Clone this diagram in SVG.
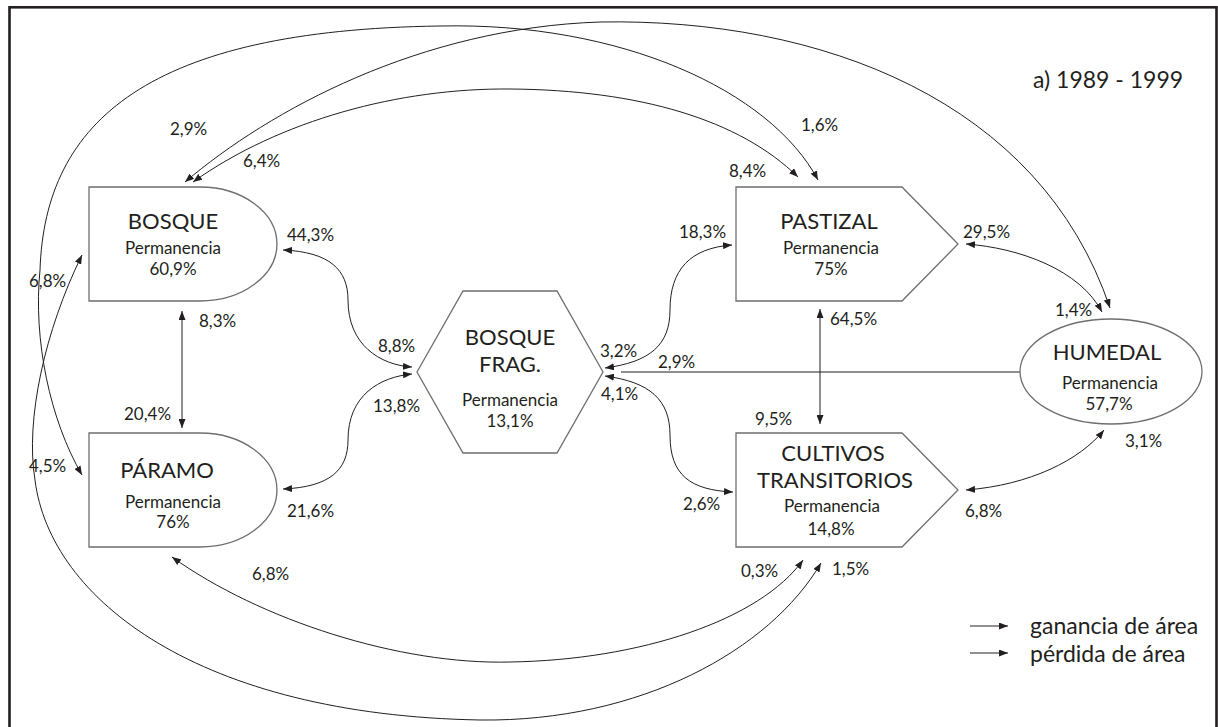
<svg xmlns="http://www.w3.org/2000/svg" width="1218" height="727" viewBox="0 0 1218 727">
<defs>
<marker id="ah" viewBox="0 0 10 10" refX="10" refY="5" markerWidth="9" markerHeight="7" markerUnits="userSpaceOnUse" orient="auto-start-reverse" preserveAspectRatio="none">
<path d="M0,0 L10,5 L0,10 z" fill="#231f20"/>
</marker>
</defs>
<style>
.node{fill:#fff;stroke:#6d6e71;stroke-width:1.3}
.c{fill:none;stroke:#231f20;stroke-width:1}
.a2{marker-start:url(#ah);marker-end:url(#ah)}
.a1{marker-end:url(#ah)}
text{font-family:Lato,"Liberation Sans",sans-serif;fill:#231f20}
.t{font-size:22px;text-anchor:middle}
.p{font-size:17px;text-anchor:middle}
.l{font-size:17px}
.g{font-size:23px}
</style>
<rect x="0" y="0" width="1218" height="727" fill="#fff"/>
<rect x="9.5" y="7.3" width="1207" height="740" fill="none" stroke="#231f20" stroke-width="2.6"/>

<g id="connectors">
<path class="c a2" d="M182,311 V428"/>
<path class="c a2" d="M283,250 C330,252 348,270 348,300 C348,345 380,365 412,367"/>
<path class="c a2" d="M283,489 C330,487 348,470 348,440 C348,395 380,377 412,374"/>
<path class="c a2" d="M605,368 C650,362 670,345 670,310 C670,270 690,248 732,245"/>
<path class="c a2" d="M605,376 C650,382 670,400 670,435 C670,475 690,490 733,492"/>
<path class="c" d="M1020,372 H621"/>
<path class="c a2" d="M820,309 V424"/>
<path class="c a2" d="M966,244 C1020,248 1080,270 1102,312"/>
<path class="c a2" d="M966,490 C1030,485 1080,460 1104,430"/>
<path class="c a2" d="M193,182 C280,120 400,88 510,89 C640,90 740,120 798,177"/>
<path class="c a2" d="M185,182 C270,110 420,28 600,22 C820,18 1040,100 1110,308"/>
<path class="c a2" d="M82,475 C50,420 33,340 40,270 C45,120 150,30 440,26 C620,22 770,90 818,180"/>
<path class="c a2" d="M172,557 C260,620 400,665 510,662 C640,660 760,620 803,560"/>
<path class="c a2" d="M82,255 C45,330 25,420 35,480 C50,600 200,715 480,720 C640,722 770,650 821,563"/>
<path class="c a1" d="M970,626 H1008"/>
<path class="c a1" d="M970,653 H1008"/>
</g>

<g id="bosque">
<path class="node" d="M89,187 H200 A77,57 0 0 1 200,301 H89 Z"/>
<text class="t" x="173" y="229">BOSQUE</text>
<text class="p" x="173" y="254">Permanencia</text>
<text class="p" x="173" y="275">60,9%</text>
</g>
<g id="paramo">
<path class="node" d="M89,433 H200 A77,57 0 0 1 200,547 H89 Z"/>
<text class="t" x="167" y="478">PÁRAMO</text>
<text class="p" x="173" y="508">Permanencia</text>
<text class="p" x="173" y="528">76%</text>
</g>
<g id="bosque-frag">
<path class="node" d="M417,372 L463,291 H557 L603,372 L557,453 H463 Z"/>
<text class="t" x="510" y="345">BOSQUE</text>
<text class="t" x="510" y="372">FRAG.</text>
<text class="p" x="510" y="406">Permanencia</text>
<text class="p" x="510" y="427">13,1%</text>
</g>
<g id="pastizal">
<path class="node" d="M736,187 H902 L958,244 L902,301 H736 Z"/>
<text class="t" x="829" y="229">PASTIZAL</text>
<text class="p" x="831" y="254">Permanencia</text>
<text class="p" x="831" y="275">75%</text>
</g>
<g id="cultivos">
<path class="node" d="M736,433 H902 L958,490 L902,547 H736 Z"/>
<text class="t" x="833" y="461">CULTIVOS</text>
<text class="t" x="835" y="488">TRANSITORIOS</text>
<text class="p" x="832" y="512">Permanencia</text>
<text class="p" x="831" y="535">14,8%</text>
</g>
<g id="humedal">
<ellipse class="node" cx="1111" cy="371.5" rx="91" ry="52.5"/>
<text class="t" x="1107" y="360">HUMEDAL</text>
<text class="p" x="1110" y="389">Permanencia</text>
<text class="p" x="1109" y="410">57,7%</text>
</g>

<g id="labels">
<text class="l" x="170" y="135">2,9%</text>
<text class="l" x="243" y="167">6,4%</text>
<text class="l" x="287" y="241">44,3%</text>
<text class="l" x="801" y="131">1,6%</text>
<text class="l" x="729" y="177">8,4%</text>
<text class="l" x="679" y="238">18,3%</text>
<text class="l" x="963" y="238">29,5%</text>
<text class="l" x="1055" y="316">1,4%</text>
<text class="l" x="29" y="287">6,8%</text>
<text class="l" x="199" y="327">8,3%</text>
<text class="l" x="378" y="352">8,8%</text>
<text class="l" x="124" y="420">20,4%</text>
<text class="l" x="373" y="412">13,8%</text>
<text class="l" x="29" y="472">4,5%</text>
<text class="l" x="600" y="357">3,2%</text>
<text class="l" x="658" y="368">2,9%</text>
<text class="l" x="601" y="400">4,1%</text>
<text class="l" x="830" y="325">64,5%</text>
<text class="l" x="755" y="425">9,5%</text>
<text class="l" x="1125" y="447">3,1%</text>
<text class="l" x="287" y="517">21,6%</text>
<text class="l" x="683" y="510">2,6%</text>
<text class="l" x="965" y="517">6,8%</text>
<text class="l" x="252" y="580">6,8%</text>
<text class="l" x="741" y="577">0,3%</text>
<text class="l" x="832" y="575">1,5%</text>
</g>

<g id="title">
<text x="1033" y="88" style="font-size:23px">a) 1989 - 1999</text>
</g>
<g id="legend">
<text class="g" x="1030" y="634">ganancia de área</text>
<text class="g" x="1030" y="662">pérdida de área</text>
</g>
</svg>
